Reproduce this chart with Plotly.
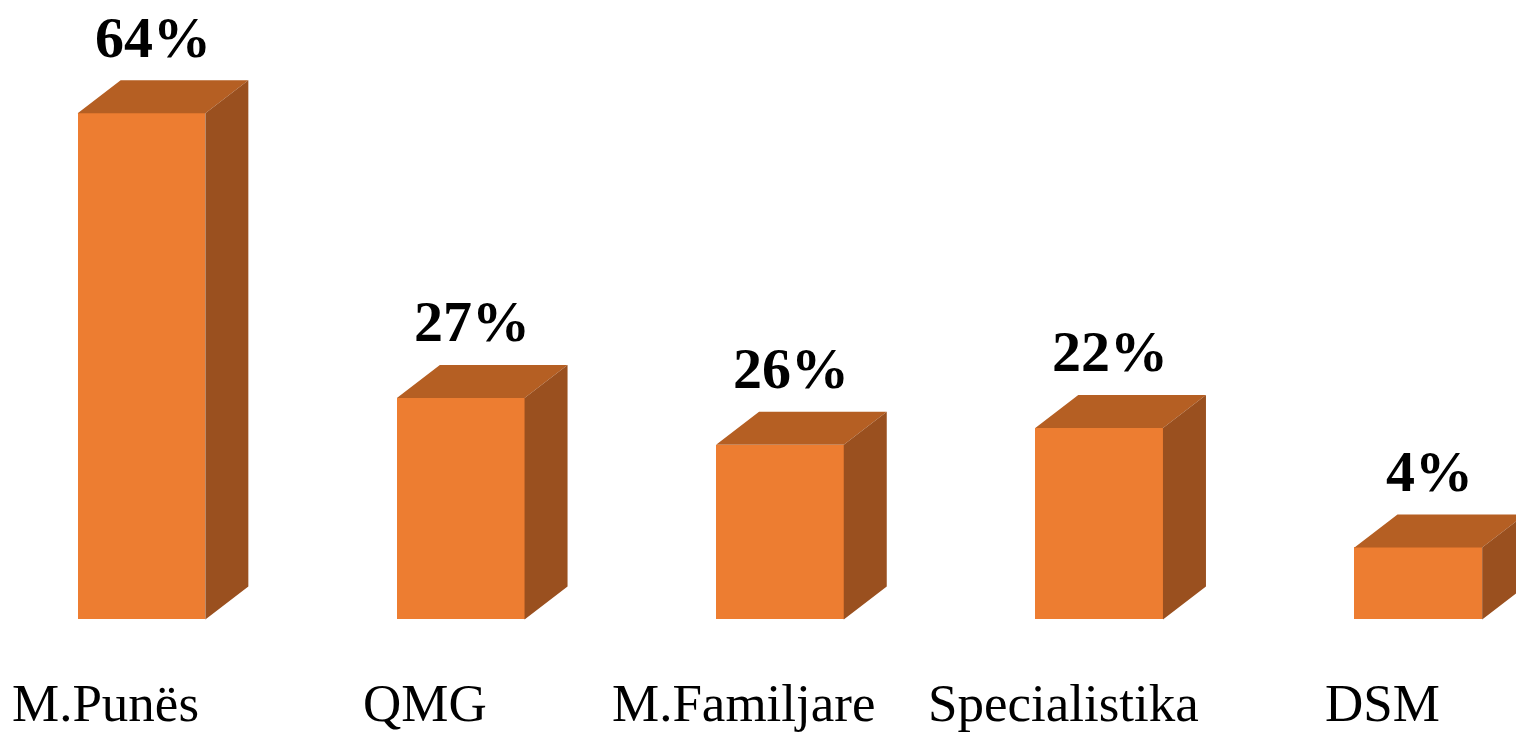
import plotly.graph_objects as go

categories = ["M.Punës", "QMG", "M.Familjare", "Specialistika", "DSM"]
value_labels = ["64%", "27%", "26%", "22%", "4%"]
bar_heights = [64.0, 28.0, 22.1, 24.2, 9.1]  # visual heights

FRONT = "#ED7D31"
TOP = "#B55F23"
SIDE = "#9A501F"

positions = list(range(len(categories)))
half_w = 0.2
dx = 0.1347
dy = 4.17

fig = go.Figure()

# front faces
fig.add_trace(go.Bar(x=positions, y=bar_heights, width=2 * half_w,
                     marker=dict(color=FRONT, line=dict(width=0)),
                     hoverinfo="skip"))

# top and side faces, computed from the data
top_x, top_y, side_x, side_y = [], [], [], []
for p, h in zip(positions, bar_heights):
    top_x += [p - half_w, p - half_w + dx, p + half_w + dx, p + half_w, p - half_w, None]
    top_y += [h, h + dy, h + dy, h, h, None]
    side_x += [p + half_w, p + half_w + dx, p + half_w + dx, p + half_w, p + half_w, None]
    side_y += [0, dy, h + dy, h, 0, None]

fig.add_trace(go.Scatter(x=top_x, y=top_y, mode="lines", fill="toself",
                         fillcolor=TOP, line=dict(width=0, color=TOP),
                         hoverinfo="skip"))
fig.add_trace(go.Scatter(x=side_x, y=side_y, mode="lines", fill="toself",
                         fillcolor=SIDE, line=dict(width=0, color=SIDE),
                         hoverinfo="skip"))

annotations = []
for p, h, lab in zip(positions, bar_heights, value_labels):
    annotations.append(dict(x=p + 0.035, y=h + dy + 5.45, xref="x", yref="y",
                            text=f"<b>{lab}</b>", showarrow=False,
                            xanchor="center", yanchor="middle",
                            font=dict(family="Liberation Serif", size=58, color="black")))
for p, c in zip(positions, categories):
    annotations.append(dict(x=p - 0.113, y=-10.6, xref="x", yref="y",
                            text=c, showarrow=False,
                            xanchor="center", yanchor="middle",
                            font=dict(family="Liberation Serif", size=53, color="black")))

fig.update_layout(
    width=1516, height=734,
    margin=dict(l=0, r=0, t=0, b=0),
    paper_bgcolor="white", plot_bgcolor="white",
    showlegend=False,
    hovermode=False,
    xaxis=dict(range=[-0.4433, 4.306], visible=False, fixedrange=True),
    yaxis=dict(range=[-14.48, 78.32], visible=False, fixedrange=True),
    annotations=annotations,
    bargap=0,
)

fig.write_html("out.html",
               config={"displayModeBar": False},
               post_script="document.body.style.margin='0';document.body.style.overflow='hidden';")
